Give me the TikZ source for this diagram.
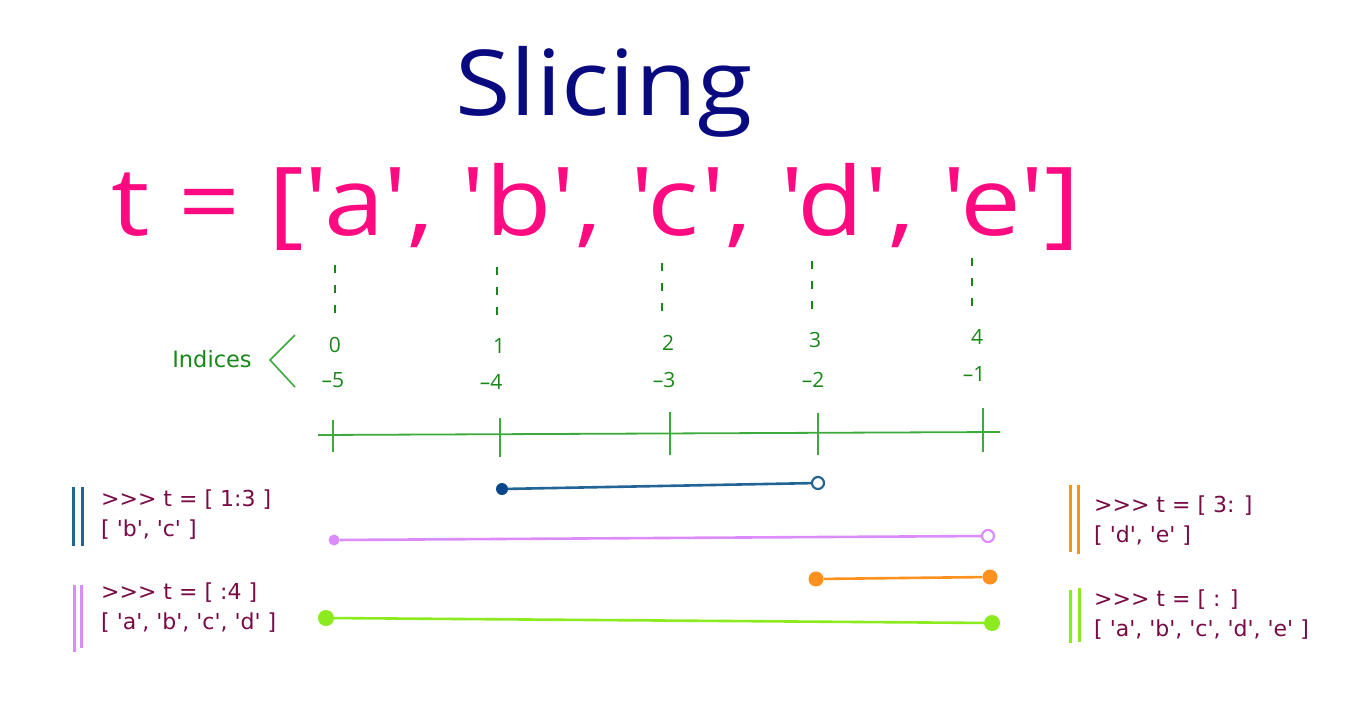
\documentclass[tikz,border=0pt]{standalone}
\usepackage{fontspec}
\usepackage{graphicx}
\setmainfont{Open Sans}[Ligatures=TeXOff]
\newfontfamily\smallfont{DejaVu Sans}[Ligatures=TeXOff]
\definecolor{navyT}{RGB}{10,10,128}
\definecolor{pinkT}{RGB}{255,10,128}
\definecolor{greenT}{RGB}{25,135,25}
\definecolor{greenL}{RGB}{60,170,60}
\definecolor{maroonT}{RGB}{120,10,70}
\definecolor{blueL}{RGB}{35,100,150}
\definecolor{blueD}{RGB}{10,70,140}
\definecolor{violetL}{RGB}{220,140,250}
\definecolor{orangeL}{RGB}{255,145,30}
\definecolor{limeL}{RGB}{140,235,30}
\tikzset{
  idx/.style={text=greenT, font=\fontsize{21}{24}\selectfont, inner sep=0pt},
  code/.style={text=maroonT, font=\smallfont\fontsize{22}{30}\selectfont, align=left, anchor=north west, inner sep=0pt},
  guide/.style={greenT, line width=2.5pt, dash pattern=on 8pt off 12pt},
  axisline/.style={greenL, line width=1.8pt},
  tick/.style={greenL, line width=1.6pt},
  dotf/.style={circle, inner sep=0pt, minimum size=#1},
  doto/.style={circle, inner sep=0pt, minimum size=12pt, fill=white, line width=2.2pt},
  rng/.style={line width=2.6pt},
  bar/.style={line width=3pt}
}
\begin{document}
\begin{tikzpicture}[x=1pt,y=-1pt]
\useasboundingbox (0,0) rectangle (1366,720);
\fill[white] (0,0) rectangle (1366,720);

% titles
\node[text=navyT, font=\fontsize{91}{100}\selectfont, anchor=base, inner sep=0pt] (title) at (604,115)
  {\resizebox{297pt}{\height}{Slicing}};
\node[text=pinkT, font=\fontsize{95}{110}\selectfont, anchor=base, inner sep=0pt] (list) at (596,235)
  {\resizebox{968pt}{\height}{t = {[}'a', 'b', 'c', 'd', 'e'{]}}};

% dashed guides
\foreach \n/\x/\ya in {0/335/265, 1/497/267, 2/662/263, 3/812/261, 4/972/258}{
  \coordinate (g\n a) at (\x,\ya);
  \coordinate (g\n b) at (\x,\ya+52);
  \draw[guide] (g\n a) -- (g\n b);
}

% index labels
\node[idx] (p0) at (335,345) {0};
\node[idx] (p1) at (499,346) {1};
\node[idx] (p2) at (668,343) {2};
\node[idx] (p3) at (815,340) {3};
\node[idx] (p4) at (977,337) {4};
\node[idx] (m5) at (333,380) {–5};
\node[idx] (m4) at (491,382) {–4};
\node[idx] (m3) at (664,380) {–3};
\node[idx] (m2) at (813,380) {–2};
\node[idx] (m1) at (974,374) {–1};
\node[idx, font=\smallfont\fontsize{22.5}{26}\selectfont] (ind) at (212,359) {Indices};
\coordinate (ba) at (295,335);
\coordinate (bb) at (270,360);
\coordinate (bc) at (295,387);
\draw[greenL, line width=1.6pt] (ba) -- (bb) -- (bc);

% axis
\coordinate (axL) at (318,435);
\coordinate (axR) at (1000,432);
\draw[axisline] (axL) -- (axR);
\foreach \n/\x/\ya/\yb in {0/333/420/452, 1/500/418/457, 2/670/412/455, 3/818/413/455, 4/983/408/452}{
  \coordinate (t\n a) at (\x,\ya);
  \coordinate (t\n b) at (\x,\yb);
  \draw[tick] (t\n a) -- (t\n b);
}

% ranges
\node[dotf=12pt, fill=blueD] (b1) at (502,489) {};
\node[doto, draw=blueL] (b2) at (818,483) {};
\draw[rng, blueL] (b1) -- (b2);

\node[dotf=11pt, fill=violetL] (v1) at (334,540) {};
\node[doto, draw=violetL] (v2) at (988,536) {};
\draw[rng, violetL] (v1) -- (v2);

\node[dotf=15pt, fill=orangeL] (o1) at (816,579) {};
\node[dotf=15pt, fill=orangeL] (o2) at (990,577) {};
\draw[rng, orangeL] (o1) -- (o2);

\node[dotf=16pt, fill=limeL] (l1) at (326,618) {};
\node[dotf=16pt, fill=limeL] (l2) at (992,623) {};
\draw[rng, limeL] (l1) -- (l2);

% code blocks
\node[code] (c1) at (101,490) {>{}>{}> t = {[} 1:3 {]}\\{[} 'b', 'c' {]}};
\draw[bar, blueL] (73,487) -- (73,546);
\draw[bar, blueL] (82,487) -- (82,546);

\node[code] (c2) at (101,583) {>{}>{}> t = {[} :4 {]}\\{[} 'a', 'b', 'c', 'd' {]}};
\draw[bar, violetL] (74,585) -- (74,652);
\draw[bar, violetL] (81,585) -- (81,648);

\node[code] (c3) at (1094,496) {>{}>{}> t = {[} 3: {]}\\{[} 'd', 'e' {]}};
\draw[bar, orangeL] (1070,485) -- (1070,552);
\draw[bar, orangeL] (1078,485) -- (1078,554);

\node[code] (c4) at (1094,590) {>{}>{}> t = {[} : {]}\\{[} 'a', 'b', 'c', 'd', 'e' {]}};
\draw[bar, limeL] (1070,590) -- (1070,643);
\draw[bar, limeL] (1079,588) -- (1079,642);
\end{tikzpicture}
\end{document}
